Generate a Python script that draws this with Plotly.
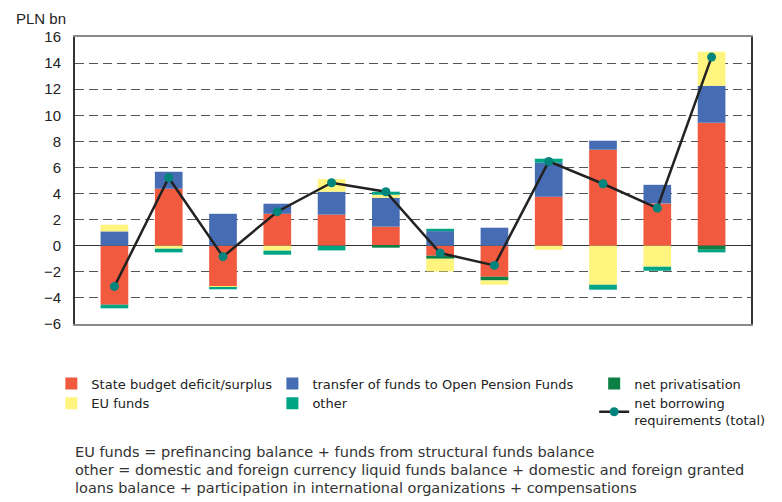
import plotly.graph_objects as go

months = ["Jan", "Feb", "Mar", "Apr", "May", "Jun", "Jul", "Aug", "Sep", "Oct", "Nov", "Dec"]
state_budget = [-4.52, 4.37, -3.10, 2.45, 2.38, 1.46, -0.77, -2.38, 3.75, 7.36, 3.24, 9.43]
ofe_transfer = [1.10, 1.30, 2.45, 0.77, 1.76, 2.22, 1.12, 1.38, 2.61, 0.69, 1.43, 2.83]
privatisation = [0.0, 0.0, 0.0, 0.0, 0.0, -0.15, -0.23, -0.28, 0.0, 0.0, 0.0, -0.31]
eu_funds = [0.51, -0.23, -0.06, -0.38, 0.97, 0.23, -0.97, -0.33, -0.31, -2.99, -1.61, 2.61]
other = [-0.28, -0.28, -0.18, -0.31, -0.36, 0.23, 0.18, 0.0, 0.31, -0.38, -0.31, -0.20]
total = [-3.12, 5.21, -0.84, 2.61, 4.83, 4.14, -0.56, -1.51, 6.46, 4.75, 2.89, 14.46]

footnotes = [
    "EU funds = prefinancing balance + funds from structural funds balance",
    "other = domestic and foreign currency liquid funds balance + domestic and foreign granted",
    "loans balance + participation in international organizations + compensations",
]

C_RED = "#F15A3F"
C_BLUE = "#466DB3"
C_DGREEN = "#0C7F45"
C_YELLOW = "#FFF47E"
C_TEAL = "#00A585"

fig = go.Figure()
fig.add_bar(x=months, y=state_budget, name="State budget deficit/surplus",
            marker=dict(color=C_RED, line_width=0), legend="legend")
fig.add_bar(x=months, y=ofe_transfer, name="transfer of funds to Open Pension Funds",
            marker=dict(color=C_BLUE, line_width=0), legend="legend2")
fig.add_bar(x=months, y=privatisation, name="net privatisation",
            marker=dict(color=C_DGREEN, line_width=0), legend="legend3")
fig.add_bar(x=months, y=eu_funds, name="EU funds",
            marker=dict(color=C_YELLOW, line_width=0), legend="legend")
fig.add_bar(x=months, y=other, name="other",
            marker=dict(color=C_TEAL, line_width=0), legend="legend2")
fig.add_scatter(x=months, y=total, name="net borrowing<br>requirements (total)",
                mode="lines+markers", line=dict(color="#222222", width=2.5),
                marker=dict(color="#00857D", size=9), legend="legend3")

leg_font = dict(family="DejaVu Sans", size=13, color="#222222")
common = dict(orientation="v", yanchor="top", y=-0.155, xanchor="left",
              font=leg_font, bgcolor="rgba(0,0,0,0)", tracegroupgap=0,
              traceorder="normal")

# page body has an 8px margin: figure is drawn 8px right/down of the page origin
fig.update_layout(
    width=774, height=494,
    margin=dict(l=67, r=27, t=29, b=178),
    paper_bgcolor="white", plot_bgcolor="white",
    barmode="relative", bargap=0.49,
    showlegend=True,
    legend=dict(x=-0.035, **common),
    legend2=dict(x=0.292, **common),
    legend3=dict(x=0.768, **common),
    xaxis=dict(showticklabels=False, showgrid=False, ticks="",
               showline=True, linecolor="#8a8a8a", linewidth=2, mirror=True),
    yaxis=dict(range=[-6, 16], dtick=2, tick0=0,
               tickfont=dict(family="Liberation Sans", size=15, color="#222222"),
               showgrid=True, gridcolor="#555555", gridwidth=1, griddash="9px,5px",
               zeroline=True, zerolinecolor="#333333", zerolinewidth=1.2,
               showline=True, linecolor="#333333", linewidth=2, mirror=True,
               ticks="", ticklabelstandoff=9),
    font=dict(family="Liberation Sans", color="#222222"),
)

fig.add_annotation(text="PLN bn", xref="paper", yref="paper", x=-0.09, y=1.0,
                   xanchor="left", yanchor="bottom", yshift=8, showarrow=False,
                   font=dict(family="Liberation Sans", size=15, color="#222222"))

for i, line in enumerate(footnotes):
    fig.add_annotation(
        text=line, xref="paper", yref="paper", x=-0.003, y=-0.446 - 0.0627 * i,
        xanchor="left", yanchor="middle", align="left", showarrow=False,
        font=dict(family="DejaVu Sans", size=14.5, color="#333333"))

fig.write_html("out.html")
